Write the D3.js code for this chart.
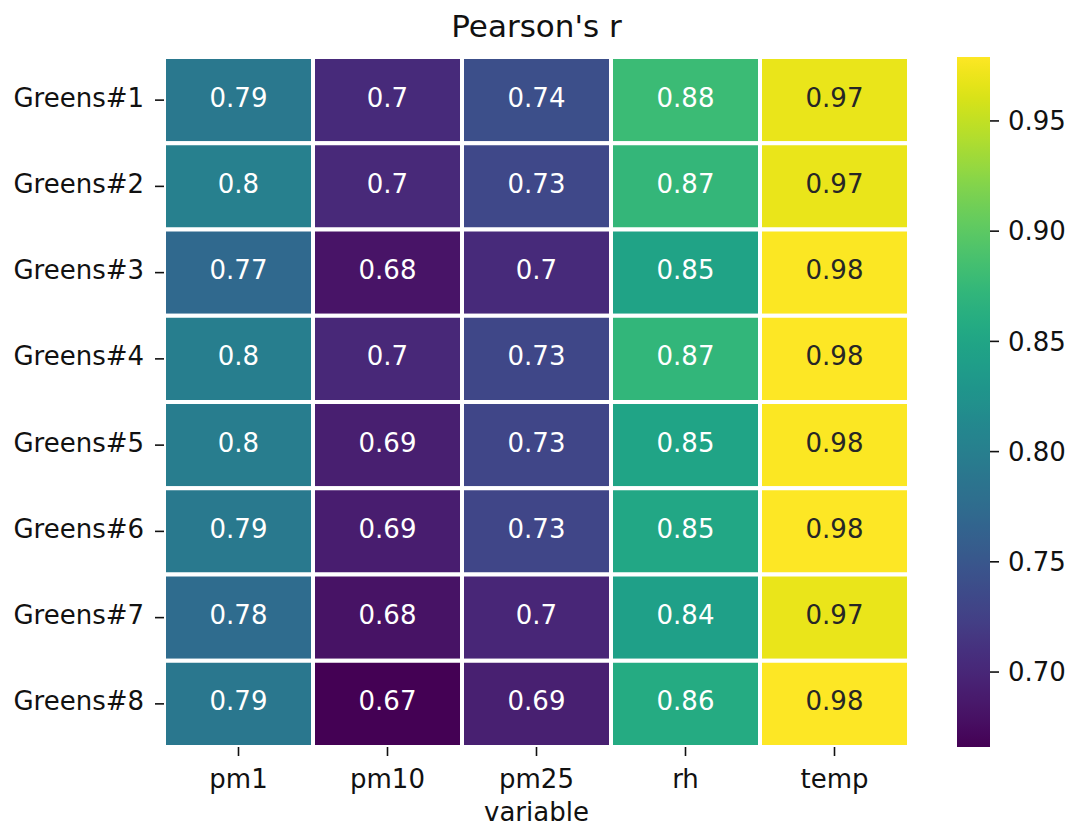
<!DOCTYPE html>
<html>
<head>
<meta charset="utf-8">
<script src="https://cdn.jsdelivr.net/npm/d3@7"></script>
<style>
  html, body { margin: 0; padding: 0; background: #fff; }
  svg { display: block; font-family: "DejaVu Sans", sans-serif; }
</style>
</head>
<body>
<svg id="chart" width="1071" height="827"></svg>
<script>
// Pearson correlation of each sensor against the reference, per variable
const sensors = ["Greens#1", "Greens#2", "Greens#3", "Greens#4", "Greens#5", "Greens#6", "Greens#7", "Greens#8"];
const variables = ["pm1", "pm10", "pm25", "rh", "temp"];

const pm1  = [0.791, 0.801, 0.772, 0.799, 0.797, 0.792, 0.776, 0.790];
const pm10 = [0.703, 0.702, 0.682, 0.701, 0.692, 0.691, 0.681, 0.666];
const pm25 = [0.741, 0.734, 0.703, 0.733, 0.731, 0.731, 0.700, 0.694];
const rh   = [0.879, 0.873, 0.848, 0.872, 0.849, 0.852, 0.843, 0.857];
const temp = [0.968, 0.969, 0.977, 0.978, 0.977, 0.979, 0.968, 0.979];

const colorbarTicks = [0.70, 0.75, 0.80, 0.85, 0.90, 0.95];

const seriesByVar = { pm1, pm10, pm25, rh, temp };
const cells = [];
sensors.forEach((s, i) => variables.forEach(v => cells.push({ sensor: s, variable: v, value: seriesByVar[v][i] })));

const svg = d3.select("#chart");
const plotLeft = 164, plotRight = 909, plotTop = 57, plotBottom = 747;
const cbLeft = 957, cbRight = 990;
const tickLen = 9, tickPad = 8, fs = 26;
const ink = "#111";

const x = d3.scaleBand().domain(variables).range([plotLeft, plotRight]);
const y = d3.scaleBand().domain(sensors).range([plotTop, plotBottom]);
const extent = d3.extent(cells, d => d.value);
const color = d3.scaleSequential(d3.interpolateViridis).domain(extent);

// Relative luminance decides light or dark annotation text
function luminance(c) {
  const rgb = d3.rgb(c);
  const lin = ch => { ch /= 255; return ch <= 0.03928 ? ch / 12.92 : Math.pow((ch + 0.055) / 1.055, 2.4); };
  return 0.2126 * lin(rgb.r) + 0.7152 * lin(rgb.g) + 0.0722 * lin(rgb.b);
}
const fmt = d3.format(".2~g");

// Heatmap cells with white separators
svg.append("g").selectAll("rect").data(cells).join("rect")
  .attr("x", d => x(d.variable))
  .attr("y", d => y(d.sensor))
  .attr("width", x.bandwidth())
  .attr("height", y.bandwidth())
  .attr("fill", d => color(d.value))
  .attr("stroke", "#fff")
  .attr("stroke-width", 4);

svg.append("g").selectAll("text").data(cells).join("text")
  .attr("x", d => x(d.variable) + x.bandwidth() / 2)
  .attr("y", d => y(d.sensor) + y.bandwidth() / 2 + 6.5)
  .attr("text-anchor", "middle")
  .attr("font-size", fs)
  .attr("fill", d => luminance(color(d.value)) > 0.408 ? "#262626" : "#ffffff")
  .text(d => fmt(d.value));

// Y axis
const yAxis = svg.append("g");
sensors.forEach(s => {
  const cy = y(s) + y.bandwidth() / 2;
  yAxis.append("line").attr("x1", plotLeft - tickLen).attr("x2", plotLeft).attr("y1", cy).attr("y2", cy)
    .attr("stroke", ink).attr("stroke-width", 1.6);
  yAxis.append("text").attr("x", plotLeft - tickLen - tickPad - 3).attr("y", cy + 6.5)
    .attr("text-anchor", "end").attr("font-size", fs).attr("fill", ink).text(s);
});

// X axis
const xAxis = svg.append("g");
variables.forEach(v => {
  const cx = x(v) + x.bandwidth() / 2;
  xAxis.append("line").attr("x1", cx).attr("x2", cx).attr("y1", plotBottom).attr("y2", plotBottom + tickLen)
    .attr("stroke", ink).attr("stroke-width", 1.6);
  xAxis.append("text").attr("x", cx).attr("y", 788)
    .attr("text-anchor", "middle").attr("font-size", fs).attr("fill", ink).text(v);
});
svg.append("text").attr("x", (plotLeft + plotRight) / 2).attr("y", 821)
  .attr("text-anchor", "middle").attr("font-size", fs).attr("fill", ink).text("variable");

// Title
svg.append("text").attr("x", (plotLeft + plotRight) / 2).attr("y", 37)
  .attr("text-anchor", "middle").attr("font-size", 31).attr("fill", ink).text("Pearson's r");

// Colorbar
const cbScale = d3.scaleLinear().domain(extent).range([plotBottom, plotTop]);
const grad = svg.append("defs").append("linearGradient").attr("id", "cbgrad")
  .attr("x1", 0).attr("y1", 1).attr("x2", 0).attr("y2", 0);
d3.range(0, 1.0001, 0.02).forEach(t => {
  grad.append("stop").attr("offset", t).attr("stop-color", d3.interpolateViridis(t));
});
svg.append("rect").attr("x", cbLeft).attr("y", plotTop).attr("width", cbRight - cbLeft).attr("height", plotBottom - plotTop)
  .attr("fill", "url(#cbgrad)");

const cbAxis = svg.append("g");
colorbarTicks.forEach(t => {
  const ty = cbScale(t);
  cbAxis.append("line").attr("x1", cbRight).attr("x2", cbRight + tickLen).attr("y1", ty).attr("y2", ty)
    .attr("stroke", ink).attr("stroke-width", 1.6);
  cbAxis.append("text").attr("x", cbRight + tickLen + tickPad + 1).attr("y", ty + 9.3)
    .attr("font-size", fs).attr("fill", ink).text(d3.format(".2f")(t));
});
</script>
</body>
</html>
